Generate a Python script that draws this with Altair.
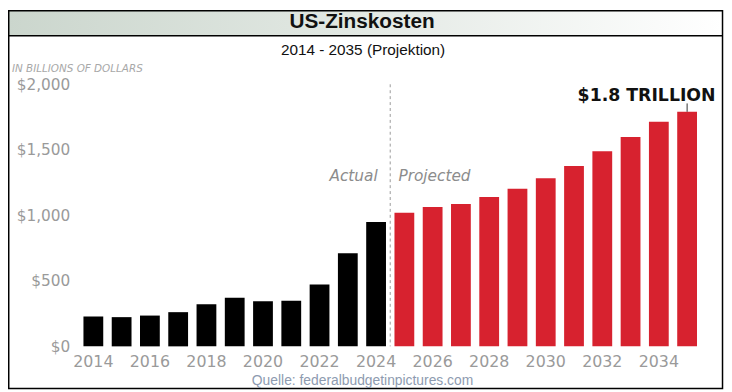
import altair as alt
import pandas as pd

# ---------------- data ----------------
years = list(range(2014, 2036))
actual_values = [227, 223, 235, 261, 321, 371, 344, 348, 473, 710, 950]
projected_values = [1019, 1064, 1087, 1140, 1202, 1283, 1376, 1489, 1597, 1715, 1790]
periods = ["Actual", "Projected"]
bar_colors = ["#000000", "#d7222f"]
y_ticks = [0, 500, 1000, 1500, 2000]
x_label_years = [2014, 2016, 2018, 2020, 2022, 2024, 2026, 2028, 2030, 2032, 2034]
first_projected_year = 2025
title_text = "US-Zinskosten"
subtitle_text = "2014 - 2035 (Projektion)"
unit_text = "IN BILLIONS OF DOLLARS"
source_text = "Quelle: federalbudgetinpictures.com"
callout_text = "$1.8 TRILLION"

values = actual_values + projected_values
period_col = [periods[0]] * len(actual_values) + [periods[1]] * len(projected_values)
df = pd.DataFrame({"year": years, "value": values, "period": period_col})

# ---------------- layout ----------------
L, T, W, H = 64, 75, 645, 265
TOTAL_W, TOTAL_H = 724, 384
R = TOTAL_W - L - W
B = TOTAL_H - T - H


def X(r):  # reference-picture x -> view x
    return r - 8 - L


def Y(r):  # reference-picture y -> view y
    return r - 8 - T


one = pd.DataFrame({"k": [0]})
GRAY = "#9a9a9a"
GEO = "DejaVu Sans"

# header banner with gradient
banner = alt.Chart(one).mark_rect(
    color=alt.Gradient(
        gradient="linear",
        stops=[
            alt.GradientStop(color="#cbd6cd", offset=0),
            alt.GradientStop(color="#e3e9e4", offset=0.5),
            alt.GradientStop(color="#ffffff", offset=1),
        ],
        x1=0, x2=1, y1=0, y2=0,
    )
).encode(
    x=alt.value(-L), x2=alt.value(X(730)), y=alt.value(-T), y2=alt.value(Y(34))
)
banner_line = alt.Chart(one).mark_rule(color="#000000", strokeWidth=1.5).encode(
    x=alt.value(-L), x2=alt.value(X(730)), y=alt.value(Y(34))
)
frame = alt.Chart(one).mark_rect(
    fill=None, stroke="#000000", strokeWidth=1.5
).encode(
    x=alt.value(-L + 0.75), x2=alt.value(X(730.5)), y=alt.value(-T + 0.75), y2=alt.value(Y(390.5))
)

title = alt.Chart(one).mark_text(
    text=title_text, font="Liberation Sans", fontWeight="bold", fontSize=21,
    color="#111111", align="center", baseline="middle"
).encode(x=alt.value(X(366)), y=alt.value(Y(20.5)))

subtitle = alt.Chart(one).mark_text(
    text=subtitle_text, font="Liberation Sans", fontSize=15.5,
    color="#111111", align="center", baseline="middle"
).encode(x=alt.value(X(367)), y=alt.value(Y(48)))

unit = alt.Chart(one).mark_text(
    text=unit_text, font=GEO, fontStyle="italic", fontSize=10.5,
    color="#a8a8a8", align="left", baseline="middle"
).encode(x=alt.value(X(12)), y=alt.value(Y(68)))

source = alt.Chart(one).mark_text(
    text=source_text, font="Liberation Sans Narrow, Arial Narrow, Liberation Sans",
    fontSize=14, color="#8e9bb0", align="center", baseline="middle"
).encode(x=alt.value(X(366.5)), y=alt.value(Y(383)))

# bars
bars = alt.Chart(df).mark_bar().encode(
    x=alt.X(
        "year:O",
        title=None,
        scale=alt.Scale(paddingInner=0.3, paddingOuter=0.43),
        axis=alt.Axis(
            values=x_label_years, domain=False, ticks=False, tickSize=0, grid=False,
            labelAngle=0, labelFont=GEO, labelFontSize=16, labelColor=GRAY,
            labelPadding=15, labelBaseline="middle", labelAlign="center",
        ),
    ),
    y=alt.Y(
        "value:Q",
        title=None,
        scale=alt.Scale(domain=[0, 2000], nice=False),
        axis=alt.Axis(
            values=y_ticks, domain=False, ticks=False, tickSize=0, grid=False,
            labelFont=GEO, labelFontSize=15.5, labelColor=GRAY, labelPadding=1.5,
            labelExpr="'$' + format(datum.value, ',')",
        ),
    ),
    color=alt.Color("period:N", scale=alt.Scale(domain=periods, range=bar_colors), legend=None),
)

# divider between actual and projected
div_df = pd.DataFrame({"year": [first_projected_year], "top": [y_ticks[-1]], "bottom": [0]})
divider = alt.Chart(div_df).mark_rule(
    color="#9a9a9a", strokeDash=[3, 3], strokeWidth=1, xOffset=-4.3
).encode(
    x=alt.X("year:O", bandPosition=0, title=None),
    y=alt.Y("top:Q", title=None),
    y2="bottom:Q",
)

side_df = pd.DataFrame({"year": [first_projected_year], "a": [periods[0]], "p": ["Projected"]})
actual_lbl = alt.Chart(side_df).mark_text(
    font=GEO, fontStyle="italic", fontSize=15.5, color="#8c8c8c",
    align="right", baseline="middle", dx=-17
).encode(x=alt.X("year:O", bandPosition=0, title=None), y=alt.value(Y(176)), text="a:N")
proj_lbl = alt.Chart(side_df).mark_text(
    font=GEO, fontStyle="italic", fontSize=15.5, color="#8c8c8c",
    align="left", baseline="middle", dx=4
).encode(x=alt.X("year:O", bandPosition=0, title=None), y=alt.value(Y(176)), text="p:N")

# callout
call_df = pd.DataFrame({"year": [years[-1]], "value": [projected_values[-1]], "label": [callout_text]})
callout = alt.Chart(call_df).mark_text(
    font=GEO, fontWeight="bold", fontSize=17.5, color="#111111",
    align="center", baseline="middle", dx=-41, dy=-16
).encode(x=alt.X("year:O", title=None), y=alt.Y("value:Q", title=None), text="label:N")
callout_tick = alt.Chart(call_df).transform_calculate(
    tip="datum.value + 64"
).mark_rule(color="#333333", strokeWidth=1).encode(
    x=alt.X("year:O", title=None), y=alt.Y("value:Q", title=None), y2="tip:Q"
)

chart = alt.layer(
    banner, banner_line, frame, title, subtitle, unit, source,
    bars, divider, actual_lbl, proj_lbl, callout, callout_tick,
).properties(
    width=W, height=H,
    padding={"left": L, "top": T, "right": R, "bottom": B},
    autosize=alt.AutoSizeParams(type="none"),
    background="#ffffff",
).configure_view(stroke=None)

chart.save("out.html", embed_options={"renderer": "svg", "actions": False})
